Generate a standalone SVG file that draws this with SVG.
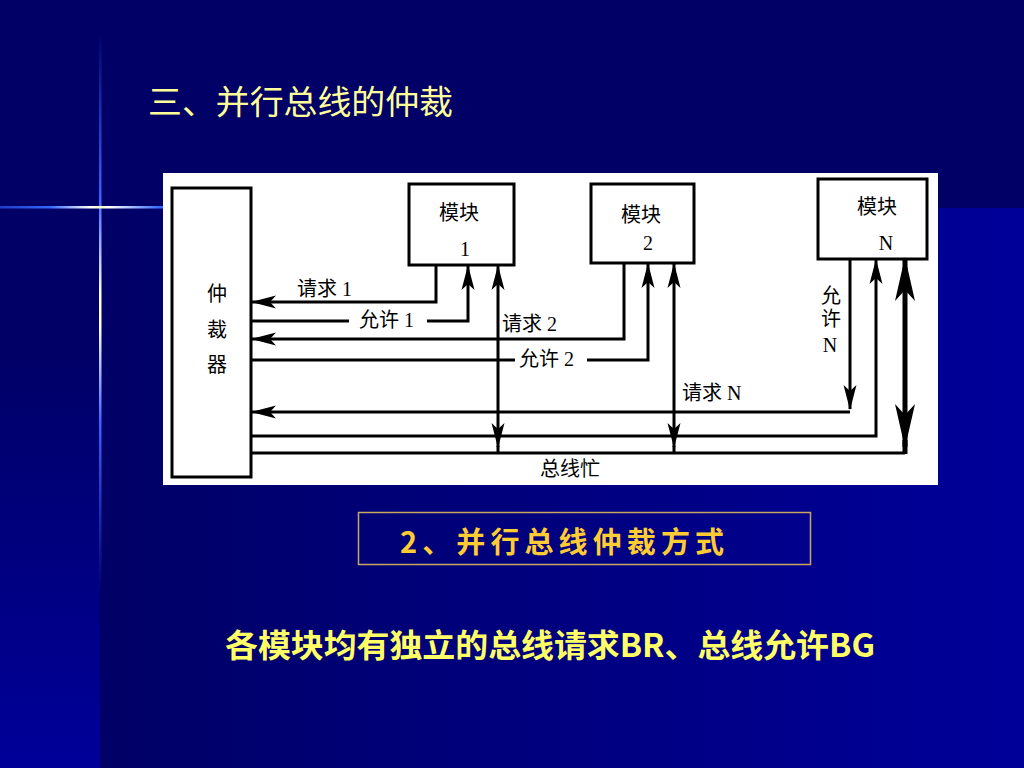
<svg xmlns="http://www.w3.org/2000/svg" width="1024" height="768" viewBox="0 0 1024 768">
<defs>
<linearGradient id="gMain" x1="0" y1="0" x2="1" y2="0"><stop offset="0" stop-color="#000066"/><stop offset="1" stop-color="#000099"/></linearGradient>
<linearGradient id="gLeft" x1="0" y1="0" x2="0" y2="1"><stop offset="0" stop-color="#000066"/><stop offset="0.45" stop-color="#000066"/><stop offset="1" stop-color="#000099"/></linearGradient>
<linearGradient id="gV" x1="0" y1="0" x2="0" y2="1">
<stop offset="0" stop-color="#3366ff" stop-opacity="0"/><stop offset="0.3" stop-color="#3366ff"/><stop offset="0.47" stop-color="#ffffff"/><stop offset="0.5" stop-color="#ffffcc"/><stop offset="0.53" stop-color="#ffffff"/><stop offset="0.7" stop-color="#3366ff"/><stop offset="1" stop-color="#3366ff" stop-opacity="0"/></linearGradient>
<linearGradient id="gH" x1="0" y1="0" x2="1" y2="0">
<stop offset="0" stop-color="#3366ff" stop-opacity="0.6"/><stop offset="0.25" stop-color="#3366ff"/><stop offset="0.45" stop-color="#ffffff"/><stop offset="0.5" stop-color="#ffffcc"/><stop offset="0.55" stop-color="#ffffff"/><stop offset="0.8" stop-color="#3366ff"/><stop offset="1" stop-color="#3366ff"/></linearGradient>
<marker id="ar" markerUnits="userSpaceOnUse" markerWidth="30" markerHeight="16" viewBox="-26 -8 30 16" refX="0" refY="0" orient="auto-start-reverse"><path d="M1,0 L-24,-6.5 L-18,0 L-24,6.5 Z" fill="#000"/></marker>
<marker id="arB" markerUnits="userSpaceOnUse" markerWidth="50" markerHeight="24" viewBox="-46 -12 50 24" refX="0" refY="0" orient="auto-start-reverse"><path d="M1,0 L-43,-10 L-32,0 L-43,10 Z" fill="#000"/></marker>
</defs>
<style>
.ln{fill:none;stroke:#000;stroke-width:3}
.box{fill:#fff;stroke:#000;stroke-width:3}
.lb{font-family:"Liberation Serif","Noto Sans CJK SC",serif;font-size:20px;fill:#000}
.mid{text-anchor:middle}
</style>
<rect width="1024" height="768" fill="#000066"/>
<rect x="0" y="0" width="100" height="768" fill="url(#gLeft)"/>
<rect x="100" y="208" width="924" height="560" fill="url(#gMain)"/>
<rect x="99" y="30" width="2.5" height="560" fill="url(#gV)"/>
<rect x="0" y="206" width="200" height="2.5" fill="url(#gH)"/>
<text x="148" y="114" font-family="Noto Sans CJK SC, sans-serif" font-size="33" fill="#ffff99" textLength="305" lengthAdjust="spacingAndGlyphs">三、并行总线的仲裁</text>
<rect x="163" y="173" width="775" height="312" fill="#fff"/>
<g id="arbiter"><rect class="box" x="172" y="188" width="79" height="289"/>
<text class="lb mid" x="217" y="301">仲</text><text class="lb mid" x="217" y="337">裁</text><text class="lb mid" x="217" y="372">器</text></g>
<g id="module1"><rect class="box" x="409" y="184" width="105" height="81"/>
<text class="lb mid" x="459" y="220">模块</text><text class="lb mid" x="465" y="256">1</text></g>
<g id="module2"><rect class="box" x="591" y="184" width="103" height="79"/>
<text class="lb mid" x="641" y="222">模块</text><text class="lb mid" x="648" y="250">2</text></g>
<g id="moduleN"><rect class="box" x="818" y="179" width="109" height="80"/>
<text class="lb mid" x="877" y="214">模块</text><text class="lb mid" x="886" y="250">N</text></g>
<g id="connectors">
<path class="ln" d="M436,265 V302 H252" marker-end="url(#ar)"/>
<path class="ln" d="M251,321 H349 M427,321 H468 V266" marker-end="url(#ar)"/>
<path class="ln" d="M498,447 V266" marker-start="url(#ar)" marker-end="url(#ar)"/>
<path class="ln" d="M624,263 V339 H252" marker-end="url(#ar)"/>
<path class="ln" d="M251,360 H515 M587,360 H648 V264" marker-end="url(#ar)"/>
<path class="ln" d="M674,447 V264" marker-start="url(#ar)" marker-end="url(#ar)"/>
<path class="ln" d="M850,259 V409" marker-end="url(#ar)"/>
<path class="ln" d="M850,412 H252" marker-end="url(#ar)"/>
<path class="ln" d="M251,436 H876 V260" marker-end="url(#ar)"/>
<path class="ln" d="M251,453 H905 M498,446 V453 M674,446 V453"/>
<path d="M905,454 V440" stroke="#000" stroke-width="5" fill="none"/>
<path d="M905,447 V258" stroke="#000" stroke-width="5" fill="none" marker-start="url(#arB)" marker-end="url(#arB)"/>
<text class="lb" x="297" y="296">请求 1</text>
<text class="lb" x="359" y="327">允许 1</text>
<text class="lb" x="502" y="331">请求 2</text>
<text class="lb" x="519" y="366">允许 2</text>
<text class="lb" x="682" y="400">请求 N</text>
<text class="lb mid" x="831" y="303">允</text><text class="lb mid" x="831" y="326">许</text><text class="lb mid" x="830" y="352">N</text>
<text class="lb" x="540" y="476">总线忙</text>
</g>
<rect x="358.5" y="512.5" width="452" height="52" fill="none" stroke="#c8a860" stroke-width="1.5"/>
<text x="400" y="553" font-family="Noto Sans CJK SC, sans-serif" font-size="29" font-weight="bold" fill="#ffcc33" textLength="324" lengthAdjust="spacing">2、并行总线仲裁方式</text>
<text x="225" y="657" font-family="Noto Sans CJK SC, sans-serif" font-size="32" font-weight="bold" fill="#ffff66" textLength="650" lengthAdjust="spacingAndGlyphs">各模块均有独立的总线请求BR、总线允许BG</text>
</svg>
